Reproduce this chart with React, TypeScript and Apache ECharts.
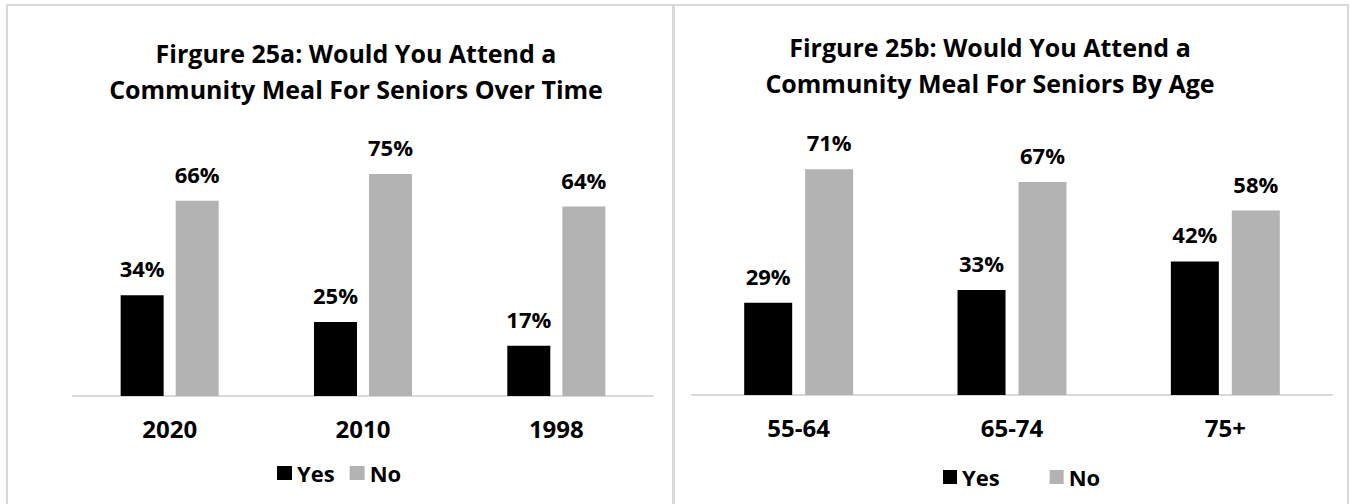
import React, { useEffect, useRef } from "react";
import * as echarts from "echarts";

const leftCategories = ["2020", "2010", "1998"];
const leftYes = [34, 25, 17];
const leftNo = [66, 75, 64];

const rightCategories = ["55-64", "65-74", "75+"];
const rightYes = [29, 33, 42];
const rightNo = [71, 67, 58];

const seriesNames = ["Yes", "No"];
const leftTitleLines = ["Firgure 25a: Would You Attend a", "Community Meal For Seniors Over Time"];
const rightTitleLines = ["Firgure 25b: Would You Attend a", "Community Meal For Seniors By Age"];

const FONT = "'Open Sans', sans-serif";
const YES_COLOR = "#000000";
const NO_COLOR = "#b3b3b3";
const LINE_COLOR = "#d9d9d9";

export default function App() {
  const ref = useRef<HTMLDivElement>(null);

  useEffect(() => {
    if (!ref.current) return;
    const chart = echarts.init(ref.current, undefined, { renderer: "svg" });

    const label = {
      show: true,
      position: "top" as const,
      distance: 16,
      formatter: "{c}%",
      color: "#000",
      fontFamily: FONT,
      fontWeight: "bold" as const,
      fontSize: 22,
    };

    const xAxisCommon = {
      type: "category" as const,
      axisLine: { show: true, lineStyle: { color: LINE_COLOR, width: 2 } },
      axisTick: { show: false },
      axisLabel: {
        color: "#000",
        fontFamily: FONT,
        fontWeight: "bold" as const,
        fontSize: 24,
        margin: 20,
      },
      splitLine: { show: false },
    };

    const yAxisCommon = {
      type: "value" as const,
      min: 0,
      max: 80,
      show: false,
      splitLine: { show: false },
    };

    const titleText = (text: string, x: number, y: number) => ({
      type: "text",
      x,
      y,
      style: {
        text,
        fill: "#000",
        font: `bold 25px ${FONT}`,
        textAlign: "center",
        textVerticalAlign: "middle",
      },
    });

    const legendText = { color: "#000", fontFamily: FONT, fontWeight: "bold", fontSize: 22 };

    const option = {
      animation: false,
      backgroundColor: "#ffffff",
      grid: [
        { left: 73, width: 580, top: 159.2, height: 236.8 },
        { left: 692, width: 640, top: 140.6, height: 254.4 },
      ],
      xAxis: [
        { ...xAxisCommon, gridIndex: 0, data: leftCategories },
        { ...xAxisCommon, gridIndex: 1, data: rightCategories },
      ],
      yAxis: [
        { ...yAxisCommon, gridIndex: 0 },
        { ...yAxisCommon, gridIndex: 1 },
      ],
      legend: [
        {
          data: seriesNames,
          left: 277,
          top: 462,
          padding: 0,
          icon: "rect",
          itemWidth: 15,
          itemHeight: 14,
          itemGap: 15,
          textStyle: legendText,
          selectedMode: false,
        },
        {
          data: seriesNames,
          left: 943,
          top: 466,
          padding: 0,
          icon: "rect",
          itemWidth: 14,
          itemHeight: 14,
          itemGap: 50,
          textStyle: legendText,
          selectedMode: false,
        },
      ],
      series: [
        {
          name: seriesNames[0],
          type: "bar",
          xAxisIndex: 0,
          yAxisIndex: 0,
          data: leftYes,
          barWidth: 43,
          barGap: "28%",
          itemStyle: { color: YES_COLOR },
          label,
        },
        {
          name: seriesNames[1],
          type: "bar",
          xAxisIndex: 0,
          yAxisIndex: 0,
          data: leftNo,
          barWidth: 43,
          barGap: "28%",
          itemStyle: { color: NO_COLOR },
          label,
        },
        {
          name: seriesNames[0],
          type: "bar",
          xAxisIndex: 1,
          yAxisIndex: 1,
          data: rightYes,
          barWidth: 48,
          barGap: "27%",
          itemStyle: { color: YES_COLOR },
          label,
        },
        {
          name: seriesNames[1],
          type: "bar",
          xAxisIndex: 1,
          yAxisIndex: 1,
          data: rightNo,
          barWidth: 48,
          barGap: "27%",
          itemStyle: { color: NO_COLOR },
          label,
        },
      ],
      graphic: [
        {
          type: "rect",
          shape: { x: 7, y: 5, width: 666, height: 530 },
          style: { fill: "none", stroke: LINE_COLOR, lineWidth: 2 },
          silent: true,
        },
        {
          type: "rect",
          shape: { x: 674, y: 5, width: 674, height: 530 },
          style: { fill: "none", stroke: LINE_COLOR, lineWidth: 2 },
          silent: true,
        },
        titleText(leftTitleLines[0], 356, 53),
        titleText(leftTitleLines[1], 356, 89),
        titleText(rightTitleLines[0], 990, 47),
        titleText(rightTitleLines[1], 990, 83),
      ],
    };

    chart.setOption(option as any);
    return () => chart.dispose();
  }, []);

  return (
    <div
      ref={ref}
      style={{ position: "absolute", left: 0, top: 0, width: 1351, height: 504 }}
    />
  );
}
